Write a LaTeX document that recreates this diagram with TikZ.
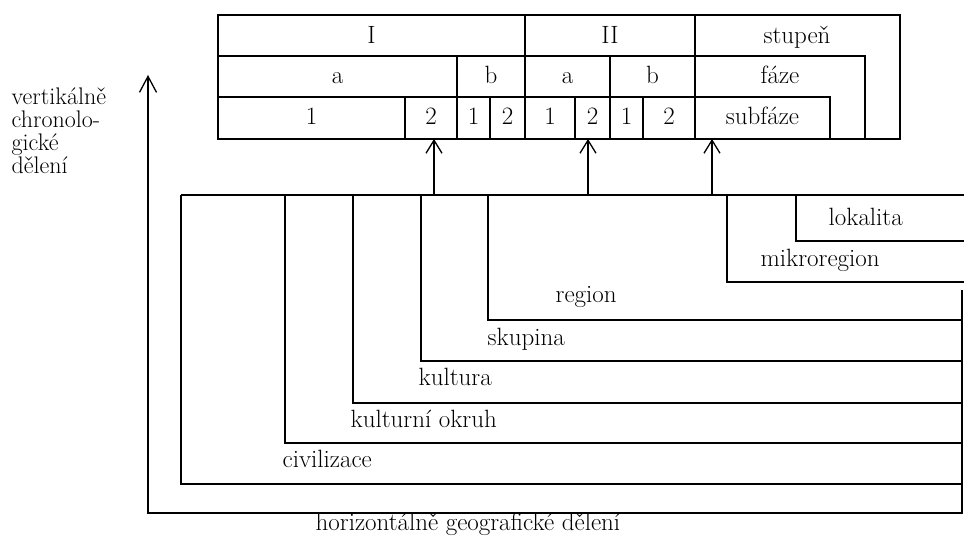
\documentclass[tikz,border=0pt]{standalone}
\usepackage{fontspec}
\usetikzlibrary{arrows.meta}
\begin{document}
\begin{tikzpicture}[x=1pt,y=-1pt,line width=1.3pt,line join=miter,
  txt/.style={font=\fontsize{25}{25}\selectfont,inner sep=0pt,anchor=base},
  lbl/.style={font=\fontsize{25}{25}\selectfont,inner sep=0pt,anchor=base west},
  side/.style={font=\fontsize{24}{24}\selectfont,inner sep=0pt,anchor=base west},
  uparrow/.style={-{Straight Barb[length=13pt,width=16pt]}},
  bigarrow/.style={-{Straight Barb[length=16pt,width=17pt]}}]
\useasboundingbox (0,0) rectangle (964,545);

% ---------- table ----------
\coordinate (tNW) at (218,15);
\coordinate (tSE) at (900,139);
\draw (tNW) rectangle (tSE);
\draw (218,56) -- (865,56) -- (865,139);
\draw (218,97) -- (830,97) -- (830,139);
\draw (525,15) -- (525,139);
\draw (695,15) -- (695,139);
\draw (457,56) -- (457,139);
\draw (610,56) -- (610,139);
\draw (405,97) -- (405,139);
\draw (490,97) -- (490,139);
\draw (575,97) -- (575,139);
\draw (643,97) -- (643,139);

\node[txt] (cI)   at (371.5,44) {I};
\node[txt] (cII)  at (610,44) {II};
\node[txt] (cst)  at (797,44) {stupeň};
\node[txt] (cIa)  at (337.5,84) {a};
\node[txt] (cIb)  at (491,84) {b};
\node[txt] (cIIa) at (567.5,84) {a};
\node[txt] (cIIb) at (652.5,84) {b};
\node[txt] (cfa)  at (780,84) {fáze};
\node[txt] (r1)   at (311.5,125) {1};
\node[txt] (r2)   at (431,125) {2};
\node[txt] (r3)   at (473.5,125) {1};
\node[txt] (r4)   at (507.5,125) {2};
\node[txt] (r5)   at (550,125) {1};
\node[txt] (r6)   at (592.5,125) {2};
\node[txt] (r7)   at (626.5,125) {1};
\node[txt] (r8)   at (669,125) {2};
\node[txt] (csub) at (762.5,125) {subfáze};

% ---------- left caption ----------
\node[side] (v1) at (11,105) {vertikálně};
\node[side] (v2) at (11,128) {chronolo-};
\node[side] (v3) at (11,151) {gické};
\node[side] (v4) at (11,174) {dělení};

% ---------- nested geographic brackets ----------
\coordinate (topL) at (181,195);
\coordinate (topR) at (964,195);
\draw (topL) -- (topR);
\draw (181,195) -- (181,484) -- (962,484);
\draw (285,195) -- (285,443) -- (962,443);
\draw (353,195) -- (353,403) -- (962,403);
\draw (421,195) -- (421,361) -- (962,361);
\draw (488,195) -- (488,320) -- (962,320);
\draw (727,195) -- (727,282) -- (964,282);
\draw (796,195) -- (796,241) -- (964,241);

\coordinate (outR) at (962,290);
\coordinate (outBR) at (962,513);
\coordinate (outBL) at (148,513);
\coordinate (outTip) at (148,75);
\draw[bigarrow] (outR) -- (outBR) -- (outBL) -- (outTip);

% arrows from brackets up to the table
\coordinate (a1s) at (434,195); \coordinate (a1e) at (434,139);
\coordinate (a2s) at (588,195); \coordinate (a2e) at (588,139);
\coordinate (a3s) at (712,195); \coordinate (a3e) at (712,139);
\draw[uparrow] (a1s) -- (a1e);
\draw[uparrow] (a2s) -- (a2e);
\draw[uparrow] (a3s) -- (a3e);

% labels
\node[lbl] (lok) at (828,226) {lokalita};
\node[lbl] (mik) at (760,267) {mikroregion};
\node[lbl] (reg) at (555,303) {region};
\node[lbl] (sku) at (487,345) {skupina};
\node[lbl] (kul) at (418,385) {kultura};
\node[lbl] (oku) at (350,427) {kulturní okruh};
\node[lbl] (civ) at (282,467) {civilizace};
\node[lbl] (hor) at (315,530) {horizontálně geografické dělení};
\end{tikzpicture}
\end{document}
